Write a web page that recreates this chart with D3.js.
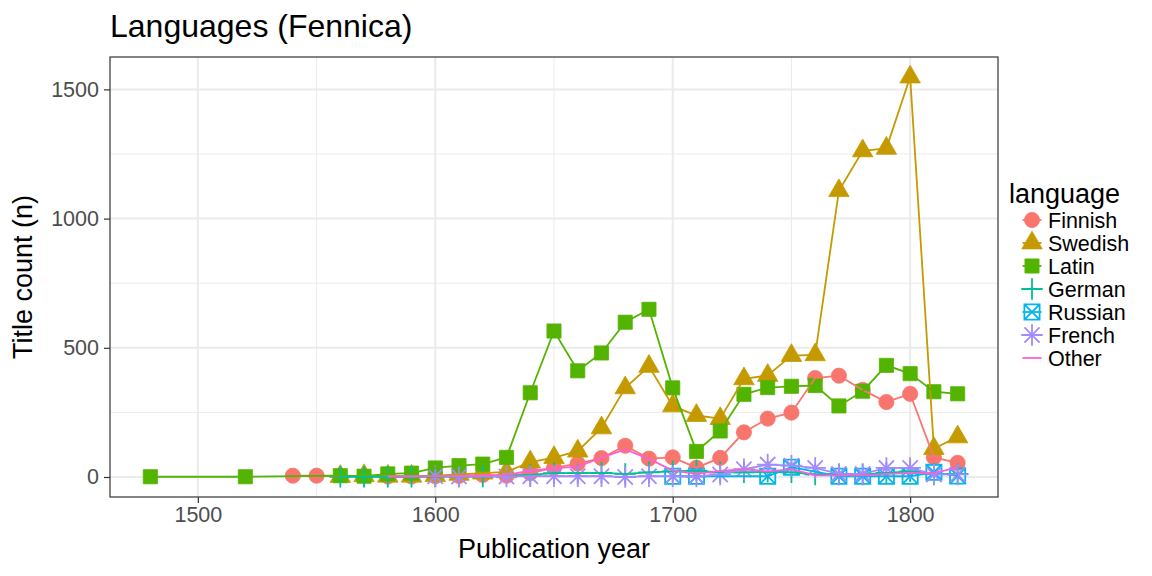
<html>
<head>
<script src="https://d3js.org/d3.v7.min.js"></script>
<style>
  body { margin: 0; background: #fff; }
  text { font-family: "Liberation Sans", Arial, sans-serif; }
</style>
</head>
<body>
<svg id="chart" width="1152" height="576"></svg>
<script>
// publication years (decades) shared by all series
var years = [1480, 1520, 1540, 1550, 1560, 1570, 1580, 1590, 1600, 1610, 1620, 1630, 1640, 1650, 1660,
             1670, 1680, 1690, 1700, 1710, 1720, 1730, 1740, 1750, 1760, 1770, 1780, 1790, 1800, 1810, 1820];

// title counts per language, null = no titles
var finnish = [null, null, 5, 5, null, null, 2, 2, 3, 4, 8, 5, 15, 35, 52,
               73, 121, 71, 76, 36, 74, 173, 226, 249, 383, 392, 337, 290, 322, 76, 55];
var swedish = [null, null, null, null, 2, 5, 3, 3, 5, 10, 15, 20, 58, 75, 100,
               190, 345, 428, 275, 238, 226, 380, 393, 470, 473, 1108, 1262, 1272, 1548, 110, 155];
var latin   = [1, 1, null, null, 5, 3, 12, 15, 35, 44, 50, 76, 326, 565, 411,
               480, 599, 649, 345, 99, 178, 320, 346, 351, 354, 275, 332, 432, 400, 330, 322];
var german  = [null, null, null, null, 1, 1, 1, 1, 2, 2, 2, null, 8, 15, 15,
               16, 12, 18, 22, 25, 18, 18, 20, 18, 10, 10, 10, 16, 22, 12, 12];
var russian = [null, null, null, null, null, null, null, null, null, null, null, null, null, null, null,
               null, null, null, 3, 3, null, null, 3, 38, null, 3, 3, 3, 3, 18, 4];
var french  = [null, null, null, null, null, null, null, null, 3, 2, null, 2, 3, 3, 3,
               3, 0, 3, 3, 2, 10, 30, 48, 44, 35, 12, 12, 35, 35, 10, 10];
var other   = [null, null, null, null, null, null, 2, 2, 3, 4, 5, 8, 25, 33, 40,
               75, 107, 70, 25, 12, 24, 30, 22, 30, 6, 6, 6, 12, 15, 15, 37];

var languages = ["Finnish", "Swedish", "Latin", "German", "Russian", "French", "Other"];
var seriesValues = [finnish, swedish, latin, german, russian, french, other];
var colors = ["#F8766D", "#C49A00", "#53B400", "#00C094", "#00B6EB", "#A58AFF", "#FB61D7"];
var shapes = ["circle", "triangle", "square", "cross", "boxx", "star", "none"];

var xTicks = [1500, 1600, 1700, 1800];
var yTicks = [0, 500, 1000, 1500];

var svg = d3.select("#chart");
var panel = {left: 110, right: 998, top: 57, bottom: 497};

var series = languages.map(function(name, i) {
  return {
    name: name, color: colors[i], shape: shapes[i],
    values: years.map(function(y, j) { return {year: y, n: seriesValues[i][j]}; })
                 .filter(function(d) { return d.n !== null; })
  };
});

// ggplot style 5% expansion
var yMax = d3.max(seriesValues, function(s) { return d3.max(s); });
var yMin = d3.min(seriesValues, function(s) { return d3.min(s); });
var xr = d3.max(years) - d3.min(years), yr = yMax - yMin;
var x = d3.scaleLinear().domain([d3.min(years) - 0.05 * xr, d3.max(years) + 0.05 * xr])
          .range([panel.left, panel.right]);
var y = d3.scaleLinear().domain([yMin - 0.05 * yr, yMax + 0.05 * yr])
          .range([panel.bottom, panel.top]);

// grid
var grid = svg.append("g");
var xMinor = [1450, 1550, 1650, 1750, 1850].filter(function(v) { return x(v) > panel.left && x(v) < panel.right; });
var yMinor = [250, 750, 1250];
grid.selectAll(".xminor").data(xMinor).enter().append("line")
  .attr("x1", x).attr("x2", x).attr("y1", panel.top).attr("y2", panel.bottom)
  .attr("stroke", "#ebebeb").attr("stroke-width", 1);
grid.selectAll(".yminor").data(yMinor).enter().append("line")
  .attr("y1", y).attr("y2", y).attr("x1", panel.left).attr("x2", panel.right)
  .attr("stroke", "#ebebeb").attr("stroke-width", 1);
grid.selectAll(".xmajor").data(xTicks).enter().append("line")
  .attr("x1", x).attr("x2", x).attr("y1", panel.top).attr("y2", panel.bottom)
  .attr("stroke", "#ebebeb").attr("stroke-width", 2);
grid.selectAll(".ymajor").data(yTicks).enter().append("line")
  .attr("y1", y).attr("y2", y).attr("x1", panel.left).attr("x2", panel.right)
  .attr("stroke", "#ebebeb").attr("stroke-width", 2);

// point shapes
function shapePath(shape) {
  var R = 7.6;
  if (shape === "circle") return d3.symbol(d3.symbolCircle, Math.PI * R * R)();
  if (shape === "square") return d3.symbol(d3.symbolSquare, Math.pow(2 * 0.886 * R * 1.05, 2))();
  if (shape === "triangle") {
    var r = 1.555 * R, hw = r * Math.sqrt(3) / 2;
    return "M0," + (-r) + "L" + hw + "," + (r / 2) + "L" + (-hw) + "," + (r / 2) + "Z";
  }
  if (shape === "cross") {
    var a = 1.414 * R;
    return "M" + (-a) + ",0H" + a + "M0," + (-a) + "V" + a;
  }
  if (shape === "boxx") {
    var b = R;
    return "M" + (-b) + "," + (-b) + "H" + b + "V" + b + "H" + (-b) + "Z" +
           "M" + (-b) + "," + (-b) + "L" + b + "," + b + "M" + b + "," + (-b) + "L" + (-b) + "," + b;
  }
  if (shape === "star") {
    var p = 1.414 * R, q = R;
    return "M" + (-p) + ",0H" + p + "M0," + (-p) + "V" + p +
           "M" + (-q) + "," + (-q) + "L" + q + "," + q + "M" + q + "," + (-q) + "L" + (-q) + "," + q;
  }
  return "";
}
function styleShape(sel, s) {
  var filled = (s.shape === "circle" || s.shape === "square" || s.shape === "triangle");
  sel.attr("d", shapePath(s.shape))
     .attr("fill", filled ? s.color : "none")
     .attr("stroke", s.color)
     .attr("stroke-width", filled ? 0.8 : 1.8);
}

// points first, then lines on top (as in the reference)
var plot = svg.append("g");
series.forEach(function(s) {
  if (s.shape === "none") return;
  plot.append("g").selectAll("path").data(s.values).enter().append("path")
    .attr("transform", function(d) { return "translate(" + x(d.year) + "," + y(d.n) + ")"; })
    .call(styleShape, s);
});
var line = d3.line().x(function(d) { return x(d.year); }).y(function(d) { return y(d.n); });
series.forEach(function(s) {
  plot.append("path").datum(s.values)
    .attr("d", line).attr("fill", "none")
    .attr("stroke", s.color).attr("stroke-width", 1.8);
});

// panel border
svg.append("rect")
  .attr("x", panel.left).attr("y", panel.top)
  .attr("width", panel.right - panel.left).attr("height", panel.bottom - panel.top)
  .attr("fill", "none").attr("stroke", "#333333").attr("stroke-width", 1.2);

// axes
var xAxis = svg.append("g").attr("transform", "translate(0," + panel.bottom + ")")
  .call(d3.axisBottom(x).tickValues(xTicks).tickSize(6).tickPadding(4).tickFormat(d3.format("d")));
var yAxis = svg.append("g").attr("transform", "translate(" + panel.left + ",0)")
  .call(d3.axisLeft(y).tickValues(yTicks).tickSize(6).tickPadding(5).tickFormat(d3.format("d")));
[xAxis, yAxis].forEach(function(ax) {
  ax.select(".domain").remove();
  ax.selectAll(".tick line").attr("stroke", "#333333").attr("stroke-width", 1.2);
  ax.selectAll(".tick text").attr("fill", "#4d4d4d")
    .style("font-family", "'Liberation Sans', Arial, sans-serif").style("font-size", "21.5px");
});

// titles
svg.append("text").attr("x", 110).attr("y", 37)
  .style("font-size", "32px").attr("fill", "#000").text("Languages (Fennica)");
svg.append("text").attr("x", (panel.left + panel.right) / 2).attr("y", 558)
  .attr("text-anchor", "middle").style("font-size", "27px").text("Publication year");
svg.append("text")
  .attr("transform", "translate(32," + ((panel.top + panel.bottom) / 2) + ") rotate(-90)")
  .attr("text-anchor", "middle").style("font-size", "27px").text("Title count (n)");

// legend
var legend = svg.append("g").attr("transform", "translate(1009,0)");
legend.append("text").attr("x", 0).attr("y", 203).style("font-size", "27px").text("language");
series.forEach(function(s, i) {
  var cy = 220 + i * 23;
  var row = legend.append("g").attr("transform", "translate(23," + cy + ")");
  if (s.shape !== "none") row.append("path").call(styleShape, s);
  row.append("line").attr("x1", -9.5).attr("x2", 9.5).attr("y1", 0).attr("y2", 0)
    .attr("stroke", s.color).attr("stroke-width", 1.8);
  legend.append("text").attr("x", 39).attr("y", cy + 8)
    .style("font-size", "21.5px").text(s.name);
});
</script>
</body>
</html>
